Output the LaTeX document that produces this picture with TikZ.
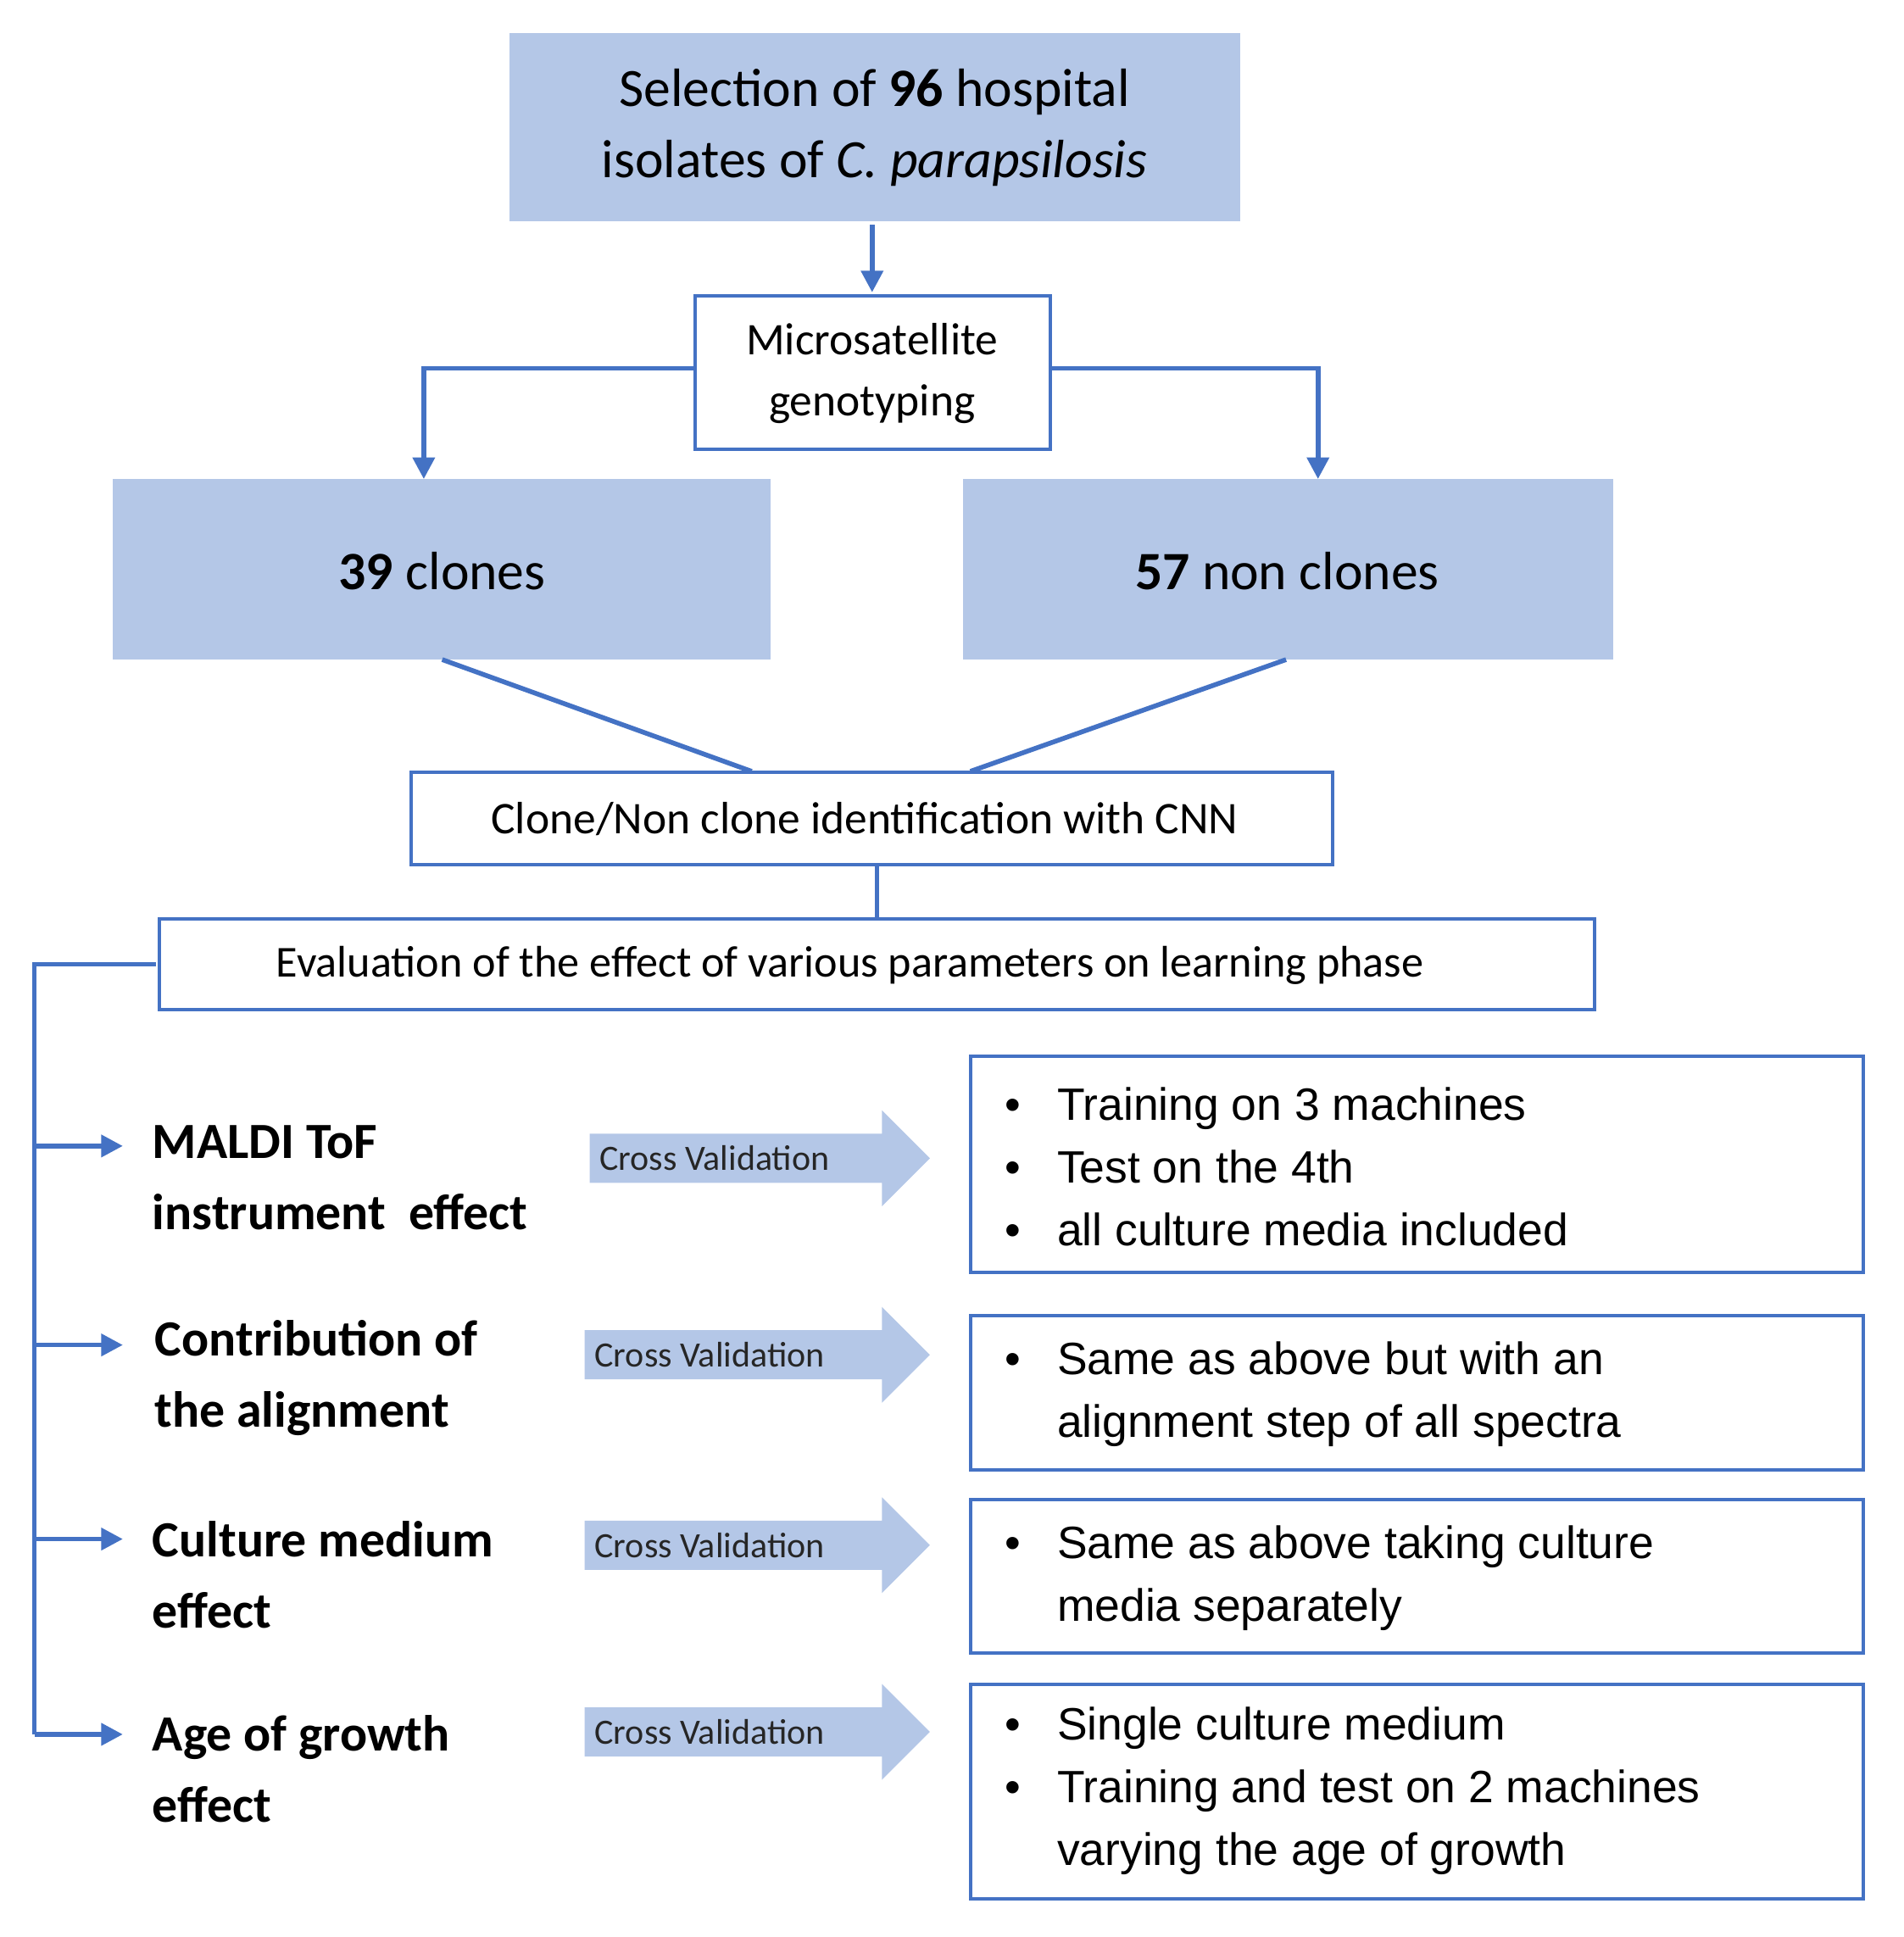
\documentclass[tikz,border=0pt]{standalone}
\usepackage{fontspec}
\setmainfont{Carlito}
\newfontfamily\arialf{Liberation Sans}
\usetikzlibrary{arrows.meta}
\definecolor{lb}{HTML}{B4C7E7}
\definecolor{bl}{HTML}{4472C4}
\begin{document}
\begin{tikzpicture}[x=0.02cm,y=-0.02cm,
 fb/.style={fill=lb,draw=none,inner sep=0},
 wb/.style={draw=bl,line width=1.6pt,fill=white,inner sep=0},
 ln/.style={draw=bl,line width=2.2pt},
 ar/.style={ln,-{Triangle[length=10pt,width=10pt]}},
 lab/.style={anchor=west,font=\fontsize{23.5}{33}\selectfont\bfseries,align=left},
 txt/.style={font=\fontsize{21}{29}\selectfont\arialf,anchor=west,align=left}]
\useasboundingbox (0,0) rectangle (1550,1577);
\path[fb] (415,27) rectangle (1010,180);
\node (top) at (712,104) [align=center,font=\fontsize{25}{33}\selectfont] {Selection of \textbf{96} hospital\\isolates of \textit{C. parapsilosis}};
\path[wb] (566,241) rectangle (855,366);
\node (mic) at (710,304) [align=center,font=\fontsize{21}{28}\selectfont] {Microsatellite\\genotyping};
\coordinate (t1) at (710,183); \coordinate (t2) at (710,238);
\draw[ar] (t1) -- (t2);
\path[fb] (92,390) rectangle (627,537);
\path[fb] (784,390) rectangle (1313,537);
\node (c39) at (360,465) [font=\fontsize{25}{28}\selectfont] {\textbf{39} clones};
\node (c57) at (1048,465) [font=\fontsize{25}{28}\selectfont] {\textbf{57} non clones};
\coordinate (ml) at (566,300); \coordinate (mr) at (855,300);
\draw[ar] (ml) -| (345,390);
\draw[ar] (mr) -| (1073,390);
\path[wb] (335,629) rectangle (1085,704);
\node (cnn) at (704,667) [font=\fontsize{21}{24}\selectfont] {Clone/Non clone identification with CNN};
\draw[ln] (360,537) -- (612,628);
\draw[ln] (1047,537) -- (790,628);
\draw[ln] (714,704) -- (714,748);
\path[wb] (130,748) rectangle (1298,822);
\node (ev) at (692,786) [font=\fontsize{20.5}{24}\selectfont] {Evaluation of the effect of various parameters on learning phase};
\draw[ln] (127,785) -- (28,785) -- (28,1412);
\foreach \y in {933,1095,1253,1412} \draw[ar] (28,\y) -- (100,\y);
\node[lab] (l1) at (118,959) {MALDI ToF\\instrument\ \ effect};
\node[lab] (l2) at (120,1122) {Contribution of\\the alignment};
\node[lab] (l3) at (118,1282) {Culture medium\\effect};
\node[lab] (l4) at (118,1440) {Age of growth\\effect};
\foreach \x/\y/\n in {480/943/a1,476/1103/a2,476/1258/a3,476/1410/a4}{
 \fill[lb] (\x,\y-20) -- (718,\y-20) -- (718,\y-39) -- (757,\y) -- (718,\y+39) -- (718,\y+20) -- (\x,\y+20) -- cycle;
 \node[anchor=west,font=\fontsize{16.5}{18}\selectfont,text=black!85] (\n) at (\x+2,\y) {Cross Validation};}
\foreach \a/\b in {860/1036,1071/1197,1221/1346,1371/1546} \path[wb] (790,\a) rectangle (1517,\b);
\node[txt] (r1) at (812,950) {•\hspace{0.8em}Training on 3 machines\\•\hspace{0.8em}Test on the 4th\\•\hspace{0.8em}all culture media included};
\node[txt] (r2) at (812,1135) {•\hspace{0.8em}Same as above but with an\\\phantom{•}\hspace{0.8em}alignment step of all spectra};
\node[txt] (r3) at (812,1285) {•\hspace{0.8em}Same as above taking culture\\\phantom{•}\hspace{0.8em}media separately};
\node[txt] (r4) at (812,1458) {•\hspace{0.8em}Single culture medium\\•\hspace{0.8em}Training and test on 2 machines\\\phantom{•}\hspace{0.8em}varying the age of growth};
\end{tikzpicture}
\end{document}
